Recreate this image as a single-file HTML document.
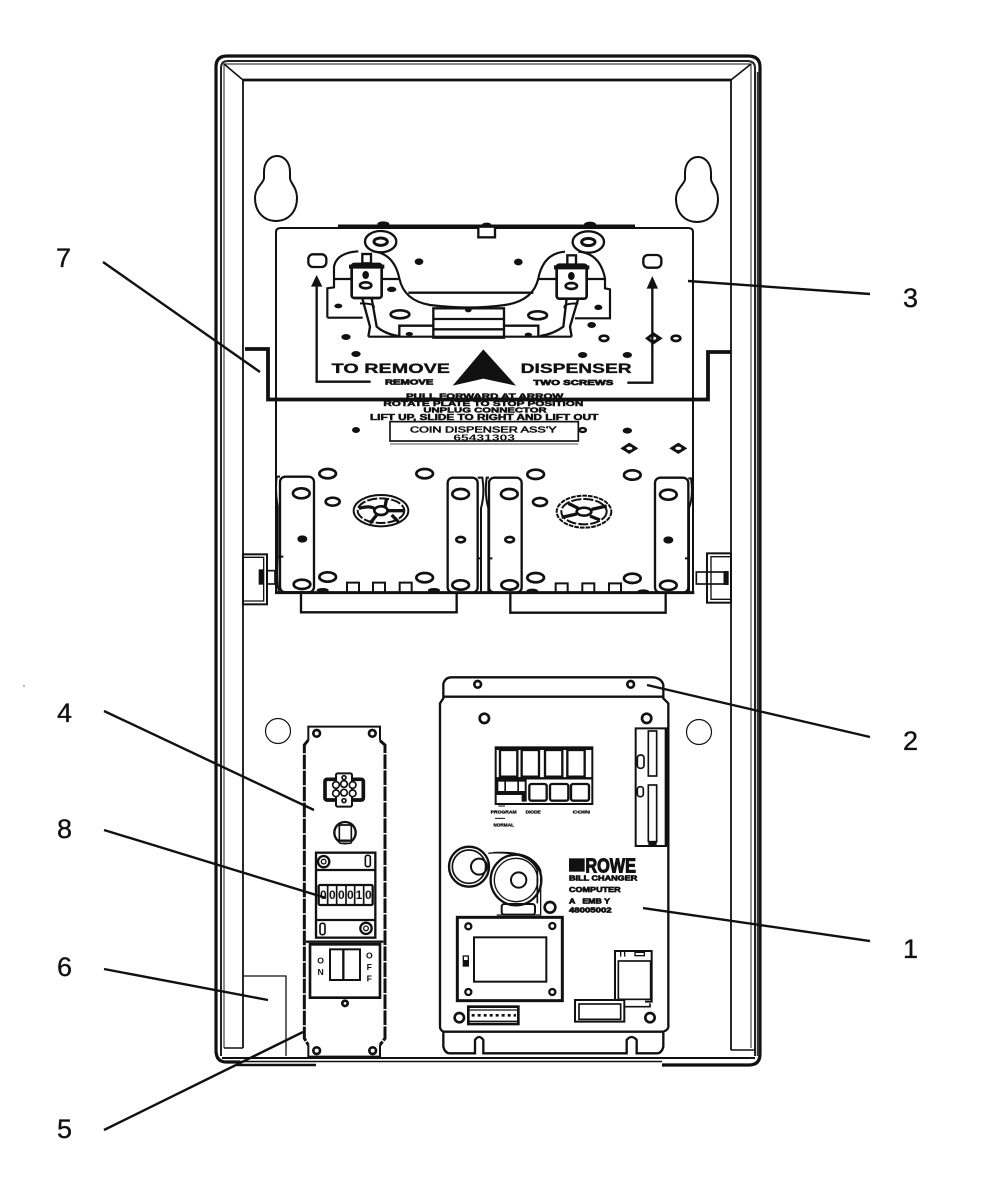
<!DOCTYPE html>
<html><head><meta charset="utf-8"><style>
html,body{margin:0;padding:0;background:#fff}
svg{display:block}
text{font-family:"Liberation Sans",sans-serif;fill:#111}
.l{stroke:#111;fill:none}
.f{fill:#111;stroke:none}
.n{font-size:27px;fill:#111;stroke:#111;stroke-width:.35}
.b{font-weight:bold}
</style></head><body>
<svg width="982" height="1200" viewBox="0 0 982 1200" xmlns="http://www.w3.org/2000/svg">
<rect width="982" height="1200" fill="#fff"/>
<circle cx="24" cy="686" r=".8" fill="#555"/>

<!-- enclosure -->
<g class="l" stroke="#111" fill="none">
<path d="M240,1062 H226 Q216,1062 216,1050 V67 Q216,56 227,56 H748 Q760,56 760,67 V1054 Q760,1065 749,1065 H662" stroke-width="3.200"/>
<path d="M221,1056 V68 Q221,61 228,61 H747 Q755,61 755,68 V1056" stroke-width="2" stroke="#222"/>
<path d="M224,1048 V64 H751 V1048" stroke-width="1.200" stroke="#444"/>
<path d="M243,1048 V80 H731 V1050" stroke-width="1.800"/>
<path d="M243,80 H731" stroke-width="2.800"/>
<path d="M224,64 L243,80 M751,64 L731,80" stroke-width="1.600"/>
<path d="M224,1048 H243 M731,1050 H755" stroke-width="1.400"/>
<path d="M222,1058 H755" stroke-width="2"/>
<path d="M240,1061.500 H662" stroke-width="1.400"/>
<path d="M237,1065 H316" stroke-width="2.600"/>
<path d="M758,72 V1056" stroke-width="2.400" stroke="#333"/>
<path d="M264,172 C264,162 270,156 277,156 C284,156 290,162 290,172 V178 C290,183 297,187 297,198 C297,212 288,221 276,221 C264,221 255,212 255,198 C255,187 264,183 264,178 Z" stroke-width="2"/>
<path d="M264,172 C264,162 270,156 277,156 C284,156 290,162 290,172 V178 C290,183 297,187 297,198 C297,212 288,221 276,221 C264,221 255,212 255,198 C255,187 264,183 264,178 Z" transform="translate(421,1)" stroke-width="2"/>
<circle cx="278" cy="731" r="12.500" stroke-width="1.200"/>
<circle cx="699" cy="732" r="12.500" stroke-width="1.200"/>
</g>

<!-- plate outline -->
<path class="l" d="M276,593 V232 Q276,228 281,228 H688 Q693,228 693,232 V593" stroke-width="2"/>
<path class="l" d="M338,226 H635" stroke-width="3"/>

<!-- top of dispenser, zoom 1 coordinates -->
<g transform="translate(270,210) scale(.33333)" class="l" stroke-width="7">
<rect x="625" y="50" width="50" height="32" fill="#fff"/>
<ellipse class="f" cx="340" cy="42" rx="18" ry="8"/><ellipse class="f" cx="650" cy="44" rx="14" ry="6"/><ellipse class="f" cx="960" cy="43" rx="18" ry="8"/>
<ellipse cx="332" cy="95" rx="47" ry="32"/><ellipse cx="332" cy="95" rx="20" ry="11" stroke-width="9"/>
<ellipse cx="955" cy="96" rx="47" ry="32"/><ellipse cx="955" cy="96" rx="20" ry="11" stroke-width="9"/>
<rect x="115" y="133" width="54" height="38" rx="14"/><rect x="1120" y="135" width="54" height="38" rx="14"/>
<path d="M172,323 V235 L192,232 V170 Q200,128 265,124 M308,124 Q372,130 388,205 Q402,272 480,285 Q600,300 705,285 Q790,272 805,205 Q820,130 885,125 M925,125 Q990,130 1005,205 V235 L1020,238 V325 H915 M172,323 H278 M295,380 H905" stroke-width="6.500"/>
<path d="M192,207 H245 M335,207 H388 M805,207 H860 M950,207 H1005 M415,248 H790"/>
<rect x="490" y="295" width="212" height="88"/><path d="M490,327 H702 M490,358 H702"/>
<path d="M388,380 V347 H490 M702,347 H805 V378"/>
<path d="M277,265 L300,350 L295,380 M305,265 L320,350 Q345,372 385,378 M925,265 L900,350 L905,380 M890,265 L880,350 Q850,372 810,378"/>
<path d="M270,280 Q320,280 310,295 M925,280 Q875,280 885,295" stroke-width="6"/>
<rect x="245" y="162" width="90" height="102" rx="8" fill="#fff" stroke-width="8"/>
<rect x="860" y="164" width="90" height="102" rx="8" fill="#fff" stroke-width="8"/>
<path d="M237,170 H343 M852,172 H958" stroke-width="12"/>
<rect x="277" y="132" width="26" height="28"/><rect x="892" y="136" width="26" height="28"/>
<ellipse cx="287" cy="226" rx="17" ry="9" stroke-width="8"/><ellipse class="f" cx="287" cy="195" rx="10" ry="12"/>
<ellipse cx="904" cy="228" rx="17" ry="9" stroke-width="8"/><ellipse class="f" cx="904" cy="198" rx="10" ry="12"/>
<ellipse cx="390" cy="313" rx="28" ry="12" stroke-width="8"/><ellipse cx="803" cy="316" rx="28" ry="12" stroke-width="8"/>
<g class="f">
<ellipse cx="447" cy="155" rx="13" ry="10"/><ellipse cx="745" cy="156" rx="13" ry="10"/><ellipse cx="365" cy="238" rx="14" ry="8"/><ellipse cx="205" cy="288" rx="12" ry="7"/><ellipse cx="985" cy="292" rx="12" ry="8"/><ellipse cx="965" cy="345" rx="13" ry="9"/><ellipse cx="228" cy="381" rx="14" ry="9"/><ellipse cx="258" cy="432" rx="14" ry="9"/><ellipse cx="938" cy="435" rx="14" ry="9"/><ellipse cx="1072" cy="435" rx="14" ry="9"/><ellipse cx="595" cy="300" rx="10" ry="7"/><ellipse cx="258" cy="660" rx="12" ry="9"/><ellipse cx="1072" cy="662" rx="14" ry="9"/><ellipse cx="418" cy="372" rx="11" ry="6"/><ellipse cx="775" cy="374" rx="11" ry="6"/>
</g>
<ellipse cx="1002" cy="385" rx="13" ry="8" stroke-width="8"/><ellipse cx="1218" cy="385" rx="13" ry="8" stroke-width="8"/>
<path d="M1125,385 L1150,366 L1178,385 L1150,404 Z" class="f"/><ellipse cx="1150" cy="385" rx="9" ry="5" fill="#fff" stroke="none"/>
<ellipse cx="938" cy="660" rx="10" ry="6" stroke-width="7"/>
<!-- arrows -->
<path d="M140,228 V515 H302 M1147,235 V518 H1072" stroke-width="7"/>
<path class="f" d="M140,195 L123,230 H157 Z M1147,198 L1130,236 H1164 Z"/>
<path class="f" d="M640,418 L738,527 L640,506 L548,527 Z"/>
<g stroke="none">
<text class="b" x="185" y="489" font-size="42" textLength="355" lengthAdjust="spacingAndGlyphs" stroke="#111" stroke-width="1">TO REMOVE</text>
<text class="b" x="752" y="489" font-size="42" textLength="333" lengthAdjust="spacingAndGlyphs" stroke="#111" stroke-width="1">DISPENSER</text>
<text class="b" x="345" y="523" font-size="22" textLength="145" lengthAdjust="spacingAndGlyphs" stroke="#111" stroke-width="2">REMOVE</text>
<text class="b" x="790" y="525" font-size="22" textLength="240" lengthAdjust="spacingAndGlyphs" stroke="#111" stroke-width="2">TWO SCREWS</text>
<text class="b" x="408" y="566" font-size="22" textLength="472" lengthAdjust="spacingAndGlyphs" stroke="#111" stroke-width="1.500">PULL FORWARD AT ARROW</text>
<text class="b" x="340" y="588" font-size="22" textLength="600" lengthAdjust="spacingAndGlyphs" stroke="#111" stroke-width="1.500">ROTATE PLATE TO STOP POSITION</text>
<text class="b" x="460" y="608" font-size="22" textLength="370" lengthAdjust="spacingAndGlyphs" stroke="#111" stroke-width="1.500">UNPLUG CONNECTOR</text>
<text class="b" x="300" y="630" font-size="24" textLength="685" lengthAdjust="spacingAndGlyphs" stroke="#111" stroke-width="1.500">LIFT UP, SLIDE TO RIGHT AND LIFT OUT</text>
<text x="420" y="668" font-size="24" textLength="440" lengthAdjust="spacingAndGlyphs" stroke="#111" stroke-width="1.500">COIN DISPENSER ASS'Y</text>
<text class="b" x="550" y="692" font-size="24" textLength="185" lengthAdjust="spacingAndGlyphs">65431303</text>
</g>
<rect x="360" y="635" width="565" height="58" stroke-width="5"/>
<path d="M360,702 H925" stroke-width="3" stroke="#555"/>
</g>

<!-- thick harness -->
<path class="l" d="M245,349 H268 V399.500 H708 V352 H731" stroke-width="3.800"/>

<!-- dispensers, zoom 2 coordinates -->
<g transform="translate(235,440) scale(.33333)" class="l" stroke-width="7">
<rect x="135" y="110" width="102" height="347" rx="16"/>
<rect x="638" y="113" width="90" height="345" rx="16"/>
<rect x="762" y="113" width="98" height="345" rx="16"/>
<rect x="1260" y="113" width="100" height="345" rx="16"/>
<path d="M135,110 H125 Q120,150 128,200 V350 M130,350 H145 M128,350 Q124,430 132,455" stroke-width="6"/>
<path d="M728,113 H742 Q750,160 738,205 V455 M762,113 H755 Q748,160 760,205 V455 M760,355 H772 M728,355 H738" stroke-width="6"/>
<path d="M1360,115 H1368 Q1376,165 1362,205 V355 M1350,355 H1362 V455" stroke-width="6"/>
<path d="M120,458 H1378" stroke-width="9"/>
<g stroke-width="8" fill="#fff">
<ellipse cx="278" cy="101" rx="25" ry="14"/><ellipse cx="569" cy="101" rx="25" ry="14"/><ellipse cx="902" cy="103" rx="25" ry="14"/><ellipse cx="1192" cy="105" rx="25" ry="14"/>
<ellipse cx="199" cy="160" rx="25" ry="15"/><ellipse cx="293" cy="185" rx="21" ry="12"/><ellipse cx="677" cy="162" rx="25" ry="15"/><ellipse cx="823" cy="162" rx="25" ry="15"/><ellipse cx="915" cy="186" rx="21" ry="12"/><ellipse cx="1300" cy="164" rx="25" ry="15"/>
<ellipse cx="278" cy="411" rx="25" ry="14"/><ellipse cx="569" cy="413" rx="25" ry="14"/><ellipse cx="902" cy="413" rx="25" ry="14"/><ellipse cx="1192" cy="415" rx="25" ry="14"/>
<ellipse cx="201" cy="433" rx="25" ry="14"/><ellipse cx="677" cy="435" rx="25" ry="14"/><ellipse cx="824" cy="435" rx="25" ry="14"/><ellipse cx="1300" cy="436" rx="25" ry="14"/>
<ellipse cx="677" cy="299" rx="13" ry="8"/><ellipse cx="824" cy="299" rx="13" ry="8"/>
</g>
<g class="f"><ellipse cx="202" cy="297" rx="15" ry="11"/><ellipse cx="1300" cy="300" rx="15" ry="11"/>
<ellipse cx="263" cy="451" rx="18" ry="7"/><ellipse cx="597" cy="451" rx="18" ry="7"/><ellipse cx="892" cy="453" rx="18" ry="7"/><ellipse cx="1225" cy="455" rx="18" ry="7"/>
<path d="M1183,8 L1210,25 L1183,42 L1156,25 Z M1330,8 L1357,25 L1330,42 L1303,25 Z"/></g>
<ellipse cx="1183" cy="25" rx="9" ry="5" fill="#fff" stroke="none"/><ellipse cx="1330" cy="25" rx="9" ry="5" fill="#fff" stroke="none"/>
<path d="M336,455 V428 H372 V455 M414,455 V428 H450 V455 M494,455 V428 H530 V455 M962,457 V430 H998 V457 M1042,457 V430 H1078 V457 M1122,457 V430 H1158 V457" stroke-width="6"/>
<!-- coin wheels -->
<ellipse cx="438" cy="212" rx="82" ry="47" stroke-width="6"/><ellipse cx="438" cy="212" rx="70" ry="37" stroke-width="6" stroke-dasharray="30 6"/>
<ellipse cx="438" cy="212" rx="20" ry="13" stroke-width="8"/>
<path d="M372,205 Q410,195 420,208 M450,200 L455,175 M405,250 L425,225 M458,212 H505 M470,225 L490,245" stroke-width="10"/>
<ellipse cx="1047" cy="215" rx="82" ry="48" stroke-width="6" stroke-dasharray="14 3"/><ellipse cx="1047" cy="215" rx="68" ry="38" stroke-width="6" stroke-dasharray="30 6"/>
<ellipse cx="1047" cy="215" rx="22" ry="12" stroke-width="8"/>
<path d="M980,232 L1025,222 M1070,208 L1115,198 M1000,190 L1030,205 M1065,228 L1095,240" stroke-width="10"/>
<!-- trays -->
<path d="M198,458 V517 H665 V458 M826,462 V518 H1292 V462"/>
<!-- hinges -->
<rect x="24" y="343" width="72" height="150" stroke-width="6"/>
<path d="M24,352 H86 V483 H24" stroke-width="4"/>
<rect class="f" x="71" y="388" width="13" height="46"/>
<rect x="96" y="392" width="24" height="40" stroke-width="5"/>
<rect x="1416" y="340" width="72" height="148" stroke-width="6"/>
<path d="M1488,350 H1428 V478 H1488" stroke-width="4"/>
<rect x="1384" y="396" width="84" height="36" stroke-width="5"/><path d="M1415,396 V432" stroke-width="5"/>
<rect class="f" x="1467" y="393" width="14" height="42"/>
</g>

<!-- PCB, zoom 3 coordinates -->
<g transform="translate(430,670) scale(.33333)" class="l" stroke-width="7">
<path d="M40,85 V42 Q45,22 65,22 H670 Q695,25 700,45 V85 L715,100 V1070 Q715,1080 700,1085 V1130 Q695,1150 680,1150 H620 V1110 Q605,1092 590,1110 V1150 H160 V1110 Q147,1092 135,1110 V1150 H60 Q45,1150 40,1130 V1085 Q30,1080 30,1070 V100 Z"/>
<path d="M40,80 H700 M40,1085 H700"/>
<g stroke-width="8"><circle cx="143" cy="43" r="10"/><circle cx="602" cy="43" r="10"/><circle cx="163" cy="145" r="14"/><circle cx="650" cy="145" r="14"/><circle cx="360" cy="712" r="16"/><circle cx="88" cy="1043" r="14"/><circle cx="660" cy="1043" r="14"/></g>
<!-- relays -->
<rect x="197" y="232" width="290" height="170" stroke-width="6"/>
<rect x="197" y="232" width="290" height="8" class="f"/>
<path d="M197,325 H487" stroke-width="7"/>
<rect x="210" y="240" width="52" height="80"/><rect x="275" y="240" width="52" height="80"/><rect x="345" y="240" width="52" height="80"/><rect x="412" y="240" width="52" height="80"/>
<rect x="298" y="342" width="52" height="50" rx="6"/><rect x="360" y="342" width="55" height="50" rx="6"/><rect x="423" y="342" width="54" height="50" rx="6"/>
<path class="f" d="M197,325 H290 V395 H275 V375 H197 Z"/>
<rect x="205" y="335" width="18" height="28" fill="#fff" stroke="none"/><rect x="228" y="335" width="34" height="28" fill="#fff" stroke="none"/><rect x="267" y="335" width="17" height="28" fill="#fff" stroke="none"/>
<g stroke="none">
<text class="b" x="182" y="430" font-size="14" textLength="78" lengthAdjust="spacingAndGlyphs" stroke="#111" stroke-width="1">PROGRAM</text>
<text class="b" x="287" y="430" font-size="14" textLength="45" lengthAdjust="spacingAndGlyphs" stroke="#111" stroke-width="1">DIODE</text>
<text class="b" x="428" y="430" font-size="14" textLength="52" lengthAdjust="spacingAndGlyphs" stroke="#111" stroke-width="1">COIN</text>
<text class="b" x="190" y="470" font-size="14" textLength="62" lengthAdjust="spacingAndGlyphs" stroke="#111" stroke-width="1">NORMAL</text>
</g>
<path d="M205,408 H225 M195,445 H225" stroke-width="3"/>
<!-- right connector -->
<path d="M715,175 H617 V528 H715" stroke-width="6"/>
<rect class="f" x="704" y="175" width="12" height="353"/>
<rect x="655" y="183" width="25" height="135" stroke-width="5"/><rect x="655" y="345" width="25" height="170" stroke-width="5"/>
<rect x="622" y="255" width="20" height="40" rx="9" stroke-width="5"/><rect x="622" y="350" width="18" height="30" rx="8" stroke-width="5"/>
<rect class="f" x="655" y="515" width="25" height="10"/>
<!-- transformers -->
<circle cx="117" cy="590" r="60" stroke-width="7"/><circle cx="117" cy="590" r="50" stroke-width="5"/><circle cx="147" cy="590" r="24" stroke-width="6"/>
<circle cx="258" cy="630" r="76" fill="#fff" stroke-width="7"/><circle cx="258" cy="630" r="65" stroke-width="4"/><circle cx="266" cy="630" r="23" stroke-width="6"/>
<path d="M190,548 Q300,545 322,600 V700" stroke-width="5"/><path d="M175,550 Q300,535 332,600 V735 H200" stroke-width="4"/>
<rect x="215" y="702" width="100" height="32" rx="8" stroke-width="6"/>
<rect x="82" y="742" width="315" height="250" stroke-width="9" fill="#fff"/>
<rect x="132" y="802" width="217" height="133" stroke-width="6"/>
<circle cx="115" cy="769" r="9"/><circle cx="367" cy="768" r="9"/><circle cx="115" cy="966" r="9"/><circle cx="367" cy="966" r="9"/>
<rect x="100" y="858" width="15" height="30" stroke-width="4"/><rect class="f" x="100" y="870" width="15" height="18"/>
<rect x="115" y="1010" width="150" height="52" stroke-width="8"/>
<path d="M125,1036 H258" stroke-width="8" stroke-dasharray="9 9"/><path d="M118,1020 H262" stroke-width="4"/><path d="M118,1054 H262" stroke-width="4"/>
<!-- logo -->
<rect class="f" x="417" y="565" width="47" height="40"/>
<g stroke="none">
<text class="b" x="466" y="608" font-size="60" textLength="152" lengthAdjust="spacingAndGlyphs" stroke="#111" stroke-width="3">ROWE</text>
<text class="b" x="417" y="631" font-size="22" textLength="205" lengthAdjust="spacingAndGlyphs" stroke="#111" stroke-width="2">BILL CHANGER</text>
<text class="b" x="417" y="666" font-size="22" textLength="155" lengthAdjust="spacingAndGlyphs" stroke="#111" stroke-width="2">COMPUTER</text>
<text class="b" x="417" y="700" font-size="22" textLength="123" lengthAdjust="spacingAndGlyphs" stroke="#111" stroke-width="2" xml:space="preserve">A   EMB Y</text>
<text class="b" x="417" y="727" font-size="22" textLength="128" lengthAdjust="spacingAndGlyphs" stroke="#111" stroke-width="2">48005002</text>
</g>
<!-- lower right -->
<path d="M555,990 V843 H665 V995 H645 M583,1055 H435 V990 H583 Z" stroke-width="6"/>
<rect x="447" y="1002" width="125" height="46" stroke-width="5"/>
<path d="M583,1010 H660 V1000" stroke-width="5"/>
<rect x="565" y="873" width="97" height="115" stroke-width="5"/>
<rect x="615" y="847" width="28" height="10" stroke-width="4"/><path d="M572,845 V860 M584,845 V860" stroke-width="4"/>
</g>

<!-- left strip, zoom 4 coordinates -->
<g transform="translate(210,710) scale(.33333)" class="l" stroke-width="7">
<path d="M295,90 V50 H510 V92" stroke-width="6"/>
<path d="M295,1005 V1040 H510 V1005" stroke-width="6"/>
<path d="M295,90 L283,105 V985 L295,1005 M510,92 L525,105 V985 L510,1005" stroke-width="9" stroke-dasharray="44 4"/>
<g stroke-width="8"><circle cx="320" cy="70" r="10"/><circle cx="487" cy="70" r="10"/><circle cx="320" cy="1022" r="10"/><circle cx="488" cy="1022" r="10"/><circle cx="405" cy="880" r="8"/></g>
<!-- connector -->
<rect x="345" y="208" width="115" height="62" rx="6" stroke-width="11"/>
<rect x="378" y="190" width="48" height="100" rx="5" fill="#fff" stroke-width="6"/>
<g stroke-width="5" fill="#fff"><circle cx="378" cy="225" r="10"/><circle cx="402" cy="222" r="10"/><circle cx="428" cy="225" r="10"/><circle cx="378" cy="250" r="10"/><circle cx="402" cy="248" r="10"/><circle cx="428" cy="250" r="10"/><circle cx="402" cy="203" r="6"/><circle cx="402" cy="272" r="6"/></g>
<!-- button -->
<circle cx="405" cy="368" r="32" stroke-width="7"/>
<rect x="388" y="345" width="36" height="55" rx="4" fill="#fff" stroke-width="5"/>
<path d="M388,392 H424" stroke-width="7"/>
<!-- counter -->
<rect x="318" y="428" width="178" height="255" stroke-width="7" fill="#fff"/>
<path d="M318,480 H496 M318,630 H496"/>
<rect x="326" y="525" width="162" height="60" rx="4"/>
<path d="M353,525 V585 M380,525 V585 M408,525 V585 M434,525 V585 M461,525 V585" stroke-width="5"/>
<text class="b" x="340" y="567" font-size="36" text-anchor="middle" stroke="none">0</text>
<text class="b" x="367" y="567" font-size="36" text-anchor="middle" stroke="none">0</text>
<text class="b" x="394" y="567" font-size="36" text-anchor="middle" stroke="none">0</text>
<text class="b" x="421" y="567" font-size="36" text-anchor="middle" stroke="none">0</text>
<text class="b" x="447" y="567" font-size="36" text-anchor="middle" stroke="none">1</text>
<text class="b" x="475" y="567" font-size="36" text-anchor="middle" stroke="none">0</text>
<circle cx="341" cy="455" r="17" stroke-width="7"/><circle cx="341" cy="455" r="7" stroke-width="4"/>
<circle cx="468" cy="655" r="17" stroke-width="7"/><circle cx="468" cy="655" r="7" stroke-width="4"/>
<rect x="466" y="436" width="15" height="34" rx="6" stroke-width="5"/><rect x="330" y="640" width="15" height="34" rx="6" stroke-width="5"/>
<!-- switch -->
<path d="M288,695 H520" stroke-width="7"/>
<rect x="300" y="703" width="210" height="160" stroke-width="8" fill="#fff"/>
<rect x="360" y="718" width="90" height="92" stroke-width="6"/><path d="M400,718 V810"/>
<g stroke="none">
<text class="b" x="332" y="760" font-size="26" text-anchor="middle">O</text>
<text class="b" x="332" y="795" font-size="26" text-anchor="middle">N</text>
<text class="b" x="478" y="745" font-size="26" text-anchor="middle">O</text>
<text class="b" x="478" y="780" font-size="26" text-anchor="middle">F</text>
<text class="b" x="478" y="815" font-size="26" text-anchor="middle">F</text>
</g>
</g>

<!-- box item 6 -->
<path class="l" d="M244,976 H286 V1056" stroke-width="1.300"/>

<!-- leaders -->
<g class="l" stroke-width="2.400">
<path d="M103,262 L260,372"/>
<path d="M688,281 L870,294"/>
<path d="M104,711 L314,810"/>
<path d="M104,830 L326,898"/>
<path d="M104,969 L268,1000"/>
<path d="M104,1130 L303,1032"/>
<path d="M647,685 L870,737"/>
<path d="M643,908 L870,941"/>
</g>

<text class="n" x="56" y="267">7</text>
<text class="n" x="903" y="307">3</text>
<text class="n" x="57" y="722">4</text>
<text class="n" x="903" y="750">2</text>
<text class="n" x="57" y="838">8</text>
<text class="n" x="903" y="958">1</text>
<text class="n" x="57" y="976">6</text>
<text class="n" x="57" y="1138">5</text>
</svg>
</body></html>
